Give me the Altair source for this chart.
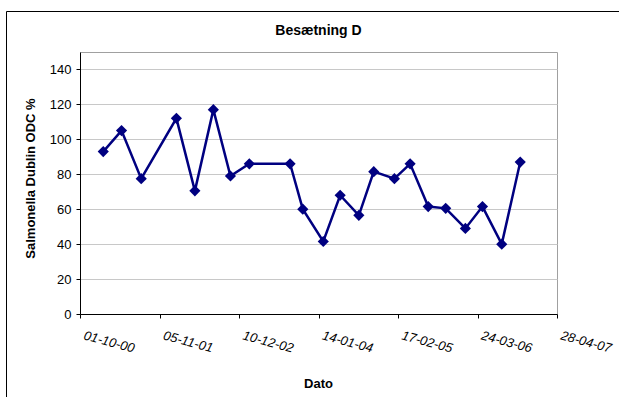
import altair as alt
import pandas as pd

# Sampling dates and Salmonella Dublin ODC% readings for herd D
dato = [
    "2001-01-26", "2001-04-28", "2001-08-05", "2002-01-29", "2002-05-02",
    "2002-08-03", "2002-10-28", "2003-01-31", "2003-08-24", "2003-10-27",
    "2004-02-07", "2004-05-02", "2004-08-04", "2004-10-18", "2005-01-30",
    "2005-04-19", "2005-07-19", "2005-10-15", "2006-01-22", "2006-04-18",
    "2006-07-24", "2006-10-25",
]
odc = [93, 105, 77.5, 112, 70.5, 117, 79, 86, 86, 60,
       41.5, 68, 56.5, 81.5, 77.5, 86, 61.5, 60.5, 49, 61.5,
       40, 87]

# Axis tick dates (400-day steps) and y ticks
x_ticks = [(2000, 10, 1), (2001, 11, 5), (2002, 12, 10), (2004, 1, 14),
           (2005, 2, 17), (2006, 3, 24), (2007, 4, 28)]
y_ticks = [0, 20, 40, 60, 80, 100, 120, 140]

df = pd.DataFrame({"dato": dato, "odc": odc})


def dt(t):
    return alt.DateTime(year=t[0], month=t[1], date=t[2], utc=True)


navy = "#000080"
font = "Liberation Sans"

x_enc = alt.X(
    "dato:T",
    scale=alt.Scale(type="utc", domain=[dt(x_ticks[0]), dt(x_ticks[-1])]),
    axis=alt.Axis(
        title="Dato",
        values=[dt(t) for t in x_ticks],
        labelExpr="utcFormat(datum.value, '%d-%m-%y')",
        grid=False,
        labelAngle=15,
        labelAlign="left",
        labelBaseline="top",
        labelPadding=11,
        labelOffset=5,
        labelFontStyle="italic",
        labelFontSize=13,
        labelFont=font,
        labelColor="#000000",
        labelOverlap=False,
        labelFlush=False,
        tickSize=4,
        tickColor="#000000",
        domainColor="#000000",
        titleFont=font,
        titleFontSize=13,
        titleFontWeight="bold",
        titleX=238,
        titleY=69,
        titleBaseline="middle",
        titleAlign="center",
    ),
)

y_enc = alt.Y(
    "odc:Q",
    scale=alt.Scale(domain=[0, 150], nice=False),
    axis=alt.Axis(
        title="Salmonella Dublin ODC %",
        values=y_ticks,
        grid=True,
        gridColor="#c8c8c8",
        gridWidth=1,
        labelFontSize=13,
        labelFont=font,
        labelColor="#000000",
        labelPadding=5,
        tickSize=4,
        tickColor="#000000",
        domainColor="#000000",
        titleFont=font,
        titleFontSize=13,
        titleFontWeight="bold",
        titleX=-50,
        titleY=126,
        titleAngle=-90,
        titleAlign="center",
        titleBaseline="middle",
    ),
)

base = alt.Chart(df).encode(x=x_enc, y=y_enc)

line = base.mark_line(color=navy, strokeWidth=2.5)
points = base.mark_point(shape="diamond", size=125, filled=True, color=navy, opacity=1)

# Chart-area frame: its top and left edges (the others run off the page)
one = pd.DataFrame({"k": [0]})
frame_top = alt.Chart(one).mark_rule(color="#000000", strokeWidth=1).encode(
    x=alt.value(-73.5), x2=alt.value(560), y=alt.value(-40.5)
)
frame_left = alt.Chart(one).mark_rule(color="#000000", strokeWidth=1).encode(
    x=alt.value(-73.5), y=alt.value(-40.5), y2=alt.value(360)
)

chart = alt.layer(line, points, frame_top, frame_left).properties(
    width=477,
    height=262,
    autosize=alt.AutoSizeParams(type="none"),
    padding={"left": 80, "top": 52, "right": 62, "bottom": 83},
    background="#ffffff",
    title=alt.TitleParams(
        "Besætning D",
        font=font,
        fontSize=14,
        fontWeight="bold",
        color="#000000",
        anchor="middle",
        frame="group",
        offset=14,
        dy=41,
    ),
).configure_view(
    stroke="#a0a0a0", strokeWidth=1
)

chart.save("out.html", embed_options={"renderer": "svg", "actions": False})
